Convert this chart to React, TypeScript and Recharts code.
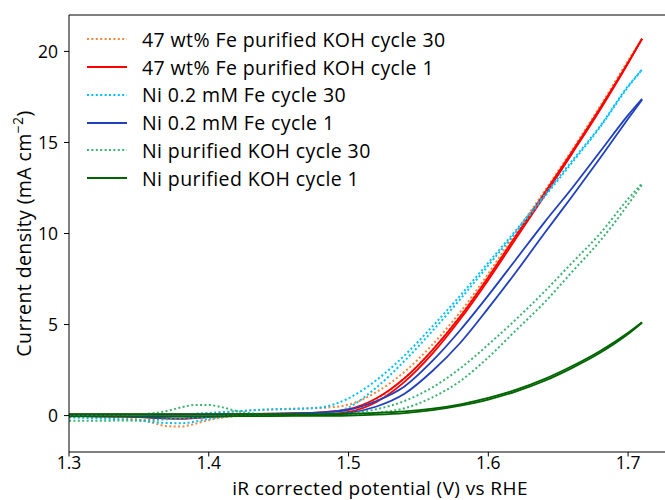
import React from "react";
import { Label, Legend, Line, LineChart, ReferenceLine, XAxis, YAxis } from "recharts";

// potential grid (V vs RHE) shared by every scan branch
const potential = [
  1.3, 1.32, 1.34, 1.35, 1.36, 1.37, 1.38, 1.39, 1.4, 1.41, 1.42, 1.44, 1.46, 1.48, 1.5, 1.52,
  1.54, 1.56, 1.58, 1.6, 1.62, 1.64, 1.66, 1.68, 1.7, 1.71
];

// current density (mA cm^-2), anodic sweep then cathodic sweep for each sample
const fe47Cycle30Fwd = [
  0.02, 0.02, 0.02, 0.02, 0.03, 0.04, 0.06, 0.09, 0.13, 0.18, 0.23, 0.32, 0.38, 0.42, 0.6, 1.3,
  2.4, 3.9, 5.7, 7.8, 10.1, 12.3, 14.6, 17.0, 19.5, 20.7
];
const fe47Cycle30Rev = [
  -0.02, -0.05, -0.12, -0.22, -0.4, -0.58, -0.6, -0.45, -0.25, -0.1, -0.03, 0.0, 0.02, 0.05, 0.2,
  0.9, 2.05, 3.6, 5.5, 7.65, 9.95, 12.2, 14.5, 16.9, 19.4, 20.7
];
const fe47Cycle1Fwd = [
  0.06, 0.06, 0.06, 0.06, 0.06, 0.06, 0.06, 0.06, 0.06, 0.07, 0.08, 0.1, 0.13, 0.18, 0.35, 0.95,
  2.05, 3.6, 5.45, 7.6, 9.9, 12.2, 14.5, 16.9, 19.4, 20.7
];
const fe47Cycle1Rev = [
  -0.03, -0.04, -0.06, -0.08, -0.12, -0.17, -0.18, -0.14, -0.08, -0.04, -0.02, 0.0, 0.02, 0.06,
  0.2, 0.75, 1.85, 3.4, 5.3, 7.45, 9.75, 12.05, 14.4, 16.8, 19.35, 20.7
];
const niFeCycle30Fwd = [
  0.03, 0.03, 0.03, 0.03, 0.04, 0.05, 0.07, 0.1, 0.14, 0.19, 0.24, 0.33, 0.36, 0.45, 0.95, 1.95,
  3.3, 4.9, 6.6, 8.4, 10.2, 12.1, 14.0, 15.9, 18.1, 19.0
];
const niFeCycle30Rev = [
  -0.1, -0.15, -0.22, -0.28, -0.35, -0.41, -0.42, -0.33, -0.18, -0.08, -0.02, 0.02, 0.05, 0.1,
  0.45, 1.55, 3.0, 4.65, 6.4, 8.25, 10.1, 12.0, 13.9, 15.85, 18.05, 19.0
];
const niFeCycle1Fwd = [
  0.05, 0.05, 0.05, 0.05, 0.05, 0.05, 0.05, 0.05, 0.05, 0.06, 0.07, 0.09, 0.12, 0.17, 0.32, 0.8,
  1.6, 3.0, 4.7, 6.6, 8.6, 10.6, 12.5, 14.5, 16.5, 17.4
];
const niFeCycle1Rev = [
  -0.03, -0.04, -0.06, -0.08, -0.11, -0.14, -0.15, -0.12, -0.07, -0.03, -0.01, 0.0, 0.02, 0.05,
  0.15, 0.5, 1.2, 2.45, 4.0, 5.9, 7.9, 10.0, 12.05, 14.15, 16.3, 17.35
];
const niPureCycle30Fwd = [
  0.0, 0.0, 0.02, 0.05, 0.13, 0.25, 0.45, 0.58, 0.58, 0.45, 0.25, 0.08, 0.06, 0.07, 0.12, 0.35,
  0.8, 1.55, 2.6, 3.9, 5.3, 6.8, 8.4, 10.0, 11.9, 12.75
];
const niPureCycle30Rev = [
  -0.28, -0.28, -0.27, -0.26, -0.24, -0.2, -0.15, -0.1, -0.06, -0.03, -0.01, 0.01, 0.02, 0.03,
  0.06, 0.15, 0.4, 1.0, 1.9, 3.2, 4.7, 6.2, 7.9, 9.6, 11.6, 12.7
];
const niPureCycle1Fwd = [
  0.08, 0.08, 0.08, 0.08, 0.08, 0.08, 0.08, 0.08, 0.08, 0.08, 0.08, 0.08, 0.08, 0.08, 0.1, 0.15,
  0.23, 0.38, 0.62, 0.97, 1.42, 2.0, 2.72, 3.55, 4.55, 5.13
];
const niPureCycle1Rev = [
  -0.04, -0.04, -0.04, -0.04, -0.04, -0.04, -0.04, -0.04, -0.04, -0.04, -0.03, -0.03, -0.02, -0.02,
  0.0, 0.05, 0.14, 0.3, 0.55, 0.88, 1.33, 1.9, 2.62, 3.45, 4.48, 5.1
];

const xTicks = [1.3, 1.4, 1.5, 1.6, 1.7];
const yTicks = [0, 5, 10, 15, 20];

const DOTTED = "2 2.4";

const series = [
  { name: "47 wt% Fe purified KOH cycle 30", color: "#f5873a", dotted: true, fwd: fe47Cycle30Fwd, rev: fe47Cycle30Rev },
  { name: "47 wt% Fe purified KOH cycle 1", color: "#ff0000", dotted: false, fwd: fe47Cycle1Fwd, rev: fe47Cycle1Rev },
  { name: "Ni 0.2 mM Fe cycle 30", color: "#00bfff", dotted: true, fwd: niFeCycle30Fwd, rev: niFeCycle30Rev },
  { name: "Ni 0.2 mM Fe cycle 1", color: "#1f3fbf", dotted: false, fwd: niFeCycle1Fwd, rev: niFeCycle1Rev },
  { name: "Ni purified KOH cycle 30", color: "#3cb371", dotted: true, fwd: niPureCycle30Fwd, rev: niPureCycle30Rev },
  { name: "Ni purified KOH cycle 1", color: "#006400", dotted: false, fwd: niPureCycle1Fwd, rev: niPureCycle1Rev }
];

const toPoints = (values: number[]) => potential.map((v, i) => ({ v, j: values[i] }));

const FONT = "'Open Sans', sans-serif";
const FS = 19.5;
const TICK_FS = 17.5;
const SPACING = "0.4px";

function SeriesLegend() {
  return (
    <div style={{ fontFamily: FONT, fontSize: FS, letterSpacing: SPACING, color: "#000" }}>
      {series.map((s) => (
        <div key={s.name} style={{ display: "flex", alignItems: "center", height: 27.8, whiteSpace: "nowrap" }}>
          <svg width={40} height={4} style={{ marginRight: 15 }}>
            <line
              x1={0}
              y1={2}
              x2={40}
              y2={2}
              stroke={s.color}
              strokeWidth={2}
              strokeDasharray={s.dotted ? DOTTED : undefined}
            />
          </svg>
          <span>{s.name}</span>
        </div>
      ))}
    </div>
  );
}

function YTitle(props: any) {
  const vb = props.viewBox || { x: 0, y: 15, width: 69, height: 437 };
  const cy = vb.y + vb.height / 2;
  return (
    <text
      x={31}
      y={cy}
      transform={`rotate(-90 31 ${cy})`}
      textAnchor="middle"
      fontSize={FS}
      letterSpacing={SPACING}
      fill="#000"
      fontFamily={FONT}
    >
      Current density (mA cm
      <tspan dy={-8} fontSize={14}>−2</tspan>
      <tspan dy={8}>)</tspan>
    </text>
  );
}

function XTitle(props: any) {
  const vb = props.viewBox || { x: 69, y: 452, width: 622, height: 48 };
  return (
    <text
      x={vb.x + vb.width / 2}
      y={494.5}
      textAnchor="middle"
      fontSize={19}
      letterSpacing={SPACING}
      fill="#000"
      fontFamily={FONT}
    >
      iR corrected potential (V) vs RHE
    </text>
  );
}

export default function App() {
  return (
    <div style={{ position: "absolute", left: 0, top: 0, width: 665, height: 500, overflow: "hidden", background: "#fff" }}>
      <LineChart width={700} height={500} margin={{ top: 15, right: 9, bottom: 0, left: 0 }} style={{ fontFamily: FONT }}>
        <XAxis
          type="number"
          dataKey="v"
          domain={[1.3, 1.745]}
          ticks={xTicks}
          tickFormatter={(v: number) => v.toFixed(1)}
          allowDataOverflow
          height={48}
          tickSize={4.5}
          tickMargin={0}
          stroke="#000"
          tick={{ fill: "#000", fontSize: TICK_FS }}
        >
          <Label content={XTitle} />
        </XAxis>
        <YAxis
          type="number"
          domain={[-2, 22]}
          ticks={yTicks}
          allowDataOverflow
          width={69}
          tickSize={5}
          tickMargin={6}
          stroke="#000"
          tick={{ fill: "#000", fontSize: TICK_FS }}
        >
          <Label content={YTitle} />
        </YAxis>
        <ReferenceLine y={22} stroke="#000" />
        {series.flatMap((s) => [
          <Line
            key={s.name + "-rev"}
            data={toPoints(s.rev)}
            dataKey="j"
            type="monotone"
            stroke={s.color}
            strokeWidth={s.dotted ? 2 : 1.8}
            strokeDasharray={s.dotted ? DOTTED : undefined}
            dot={false}
            activeDot={false}
            legendType="none"
            isAnimationActive={false}
          />,
          <Line
            key={s.name + "-fwd"}
            data={toPoints(s.fwd)}
            dataKey="j"
            name={s.name}
            type="monotone"
            stroke={s.color}
            strokeWidth={s.dotted ? 2 : 1.8}
            strokeDasharray={s.dotted ? DOTTED : undefined}
            dot={false}
            activeDot={false}
            isAnimationActive={false}
          />
        ])}
        <Legend
          layout="vertical"
          align="center"
          verticalAlign="middle"
          content={SeriesLegend}
          wrapperStyle={{ left: 87, top: 25.4, width: "auto", height: "auto" }}
        />
      </LineChart>
    </div>
  );
}
